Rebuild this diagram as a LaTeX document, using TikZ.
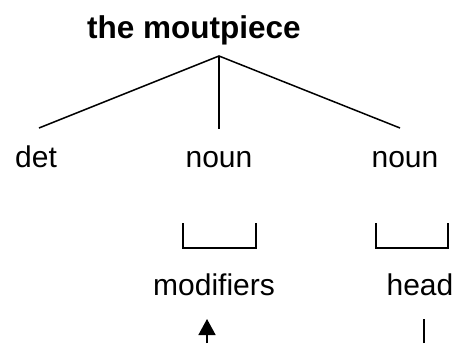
\documentclass[tikz,border=0pt]{standalone}
\usepackage{fontspec}
\setmainfont{Liberation Sans}
\usetikzlibrary{arrows.meta}
\begin{document}
\begin{tikzpicture}[x=1pt,y=-1pt,
  lbl/.style={anchor=base,inner sep=0pt,font=\fontsize{30}{36}\selectfont},
  ttl/.style={anchor=base,inner sep=0pt,font=\fontsize{31.5}{38}\selectfont\bfseries},
  edge/.style={line width=1.5pt,line cap=butt},
  brk/.style={line width=1.6pt,line join=miter}]
\useasboundingbox[fill=white] (0,0) rectangle (458,343);
\node[ttl] (title) at (194,38) {the moutpiece};
\coordinate (apex) at (219,56);
\coordinate (e1) at (39,128);
\coordinate (e2) at (219,129);
\coordinate (e3) at (400,128);
\draw[edge] (e1) -- (apex) -- (e3);
\draw[edge] (apex) -- (e2);
\node[lbl] (det) at (36,167) {det};
\node[lbl] (noun1) at (219,167) {noun};
\node[lbl] (noun2) at (405,167) {noun};
\draw[brk] (183,223) -- (183,248) -- (256,248) -- (256,223);
\draw[brk] (376,223) -- (376,248) -- (448,248) -- (448,223);
\node[lbl] (mod) at (214,295) {modifiers};
\node[lbl] (head) at (420,295) {head};
\coordinate (a0) at (207,343);
\coordinate (a1) at (207,319);
\draw[line width=1.6pt,-{Triangle[width=17pt,length=16pt]}] (a0) -- (a1);
\coordinate (h0) at (424,343);
\coordinate (h1) at (424,319);
\draw[line width=1.6pt] (h0) -- (h1);
\end{tikzpicture}
\end{document}
